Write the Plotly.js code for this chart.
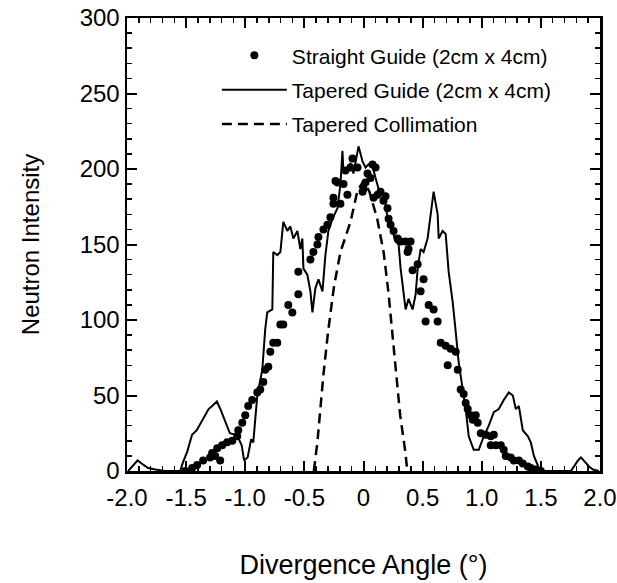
<!DOCTYPE html>
<html>
<head>
<meta charset="utf-8">
<script src="https://cdn.plot.ly/plotly-3.0.1.min.js"></script>
<style>html,body{margin:0;padding:0;background:#fff;}#chart{width:617px;height:583px;}</style>
</head>
<body>
<div id="chart"></div>
<script>
// Straight Guide (2cm x 4cm) - dots
const straightX = [-1.508,-1.449,-1.407,-1.356,-1.297,-1.280,-1.254,-1.237,-1.212,-1.195,-1.153,-1.110,-1.068,-1.059,-1.025,-1.000,-0.975,-0.941,-0.898,-0.873,-0.847,-0.831,-0.805,-0.788,-0.763,-0.729,-0.703,-0.678,-0.636,-0.602,-0.551,-0.551,-0.449,-0.424,-0.390,-0.381,-0.339,-0.305,-0.280,-0.254,-0.254,-0.237,-0.220,-0.195,-0.169,-0.153,-0.136,-0.110,-0.093,-0.051,-0.008,0.000,0.017,0.034,0.059,0.076,0.085,0.102,0.119,0.144,0.169,0.186,0.203,0.212,0.229,0.254,0.288,0.314,0.356,0.373,0.381,0.398,0.415,0.458,0.483,0.508,0.525,0.551,0.593,0.627,0.653,0.695,0.712,0.737,0.780,0.797,0.822,0.847,0.864,0.881,0.907,0.924,0.949,0.966,0.992,1.034,1.076,1.102,1.076,1.119,1.161,1.186,1.203,1.246,1.271,1.314,1.347,1.390,1.415,1.458,1.500];
const straightY = [0,2,4,7,9,12,10,15,7,17,19,20,23,27,32,37,43,47,52,54,59,67,69,79,85,85,97,97,110,105,117,132,140,145,150,155,160,163,168,177,181,192,191,177,190,199,183,201,207,201,185,187,191,197,194,203,181,201,183,185,179,182,174,167,163,159,154,152,152,145,147,152,133,137,119,127,99,110,107,99,85,83,70,81,79,67,54,51,45,41,37,34,37,32,25,24,23,24,17,17,17,14,10,9,7,7,5,3,2,1,0];

// Tapered Guide (2cm x 4cm) - solid line
const taperedX = [-1.99,-1.91,-1.86,-1.82,-1.76,-1.68,-1.55,-1.53,-1.49,-1.45,-1.41,-1.36,-1.31,-1.28,-1.24,-1.21,-1.19,-1.17,-1.13,-1.08,-1.06,-1.03,-1.01,-0.98,-0.95,-0.932,-0.898,-0.856,-0.831,-0.814,-0.771,-0.763,-0.729,-0.703,-0.678,-0.644,-0.619,-0.593,-0.559,-0.534,-0.517,-0.508,-0.475,-0.449,-0.432,-0.407,-0.381,-0.347,-0.322,-0.297,-0.263,-0.220,-0.195,-0.178,-0.169,-0.136,-0.110,-0.085,-0.042,-0.008,0.017,0.042,0.076,0.102,0.127,0.161,0.186,0.212,0.246,0.271,0.297,0.314,0.339,0.356,0.381,0.415,0.441,0.458,0.483,0.508,0.542,0.568,0.593,0.627,0.636,0.669,0.695,0.720,0.754,0.780,0.805,0.839,0.864,0.890,0.932,0.975,1.017,1.059,1.102,1.144,1.186,1.229,1.263,1.288,1.314,1.347,1.390,1.415,1.441,1.483,1.525,1.754,1.814,1.839,1.881,1.907,1.941,1.99];
const taperedY = [0,7,4,2,1,0,0,5,13,24,27,34,41,43,46,41,37,32,25,24,22,17,7,9,21,19,50,67,94,105,107,145,143,145,165,159,162,154,159,147,154,134,130,119,105,121,127,119,143,159,167,174,190,212,197,201,204,197,215,205,201,203,202,194,187,183,177,163,159,152,150,134,117,107,114,107,117,134,147,145,154,170,185,170,154,159,157,132,112,92,72,54,41,23,14,14,23,30,39,41,47,52,50,41,43,27,23,19,10,2,0,0,7,9,5,3,1,0];

// Tapered Collimation - dashed line
const collimX = [-0.42,-0.39,-0.34,-0.30,-0.25,-0.195,-0.11,-0.05,0.0,0.05,0.116,0.17,0.21,0.245,0.28,0.31,0.355,0.37];
const collimY = [0,19,63,92,122,145,165,186,192,185,167,145,119,90,59,37,12,0];

const xTickVals = [-2,-1.5,-1,-0.5,0,0.5,1,1.5,2];
const xTickText = ["-2.0","-1.5","-1.0","-0.5","0","0.5","1.0","1.5","2.0"];
const yTickVals = [0,50,100,150,200,250,300];

const FONT = "Liberation Sans, Arial, Helvetica, sans-serif";

// map Plotly's default formatted labels (unicode minus, one decimal) to the reference's labels
const xAlias = {};
xTickVals.forEach((v, i) => {
  const s = (v < 0 ? '\u2212' : '') + Math.abs(v).toFixed(1);
  xAlias[s] = xTickText[i];
});

const traces = [
  {x: straightX, y: straightY, type: 'scatter', mode: 'markers', name: 'Straight Guide (2cm x 4cm)',
   marker: {color: '#000', size: 8}, legendgroup: 'a'},
  {x: taperedX, y: taperedY, type: 'scatter', mode: 'lines', name: 'Tapered Guide (2cm x 4cm)',
   line: {color: '#000', width: 2}, legendgroup: 'b'},
  {x: collimX, y: collimY, type: 'scatter', mode: 'lines', name: 'Tapered Collimation',
   line: {color: '#000', width: 2.5, dash: '10px,6px'}, legendgroup: 'c'}
];

const layout = {
  width: 617, height: 583,
  margin: {l: 127, r: 17, t: 18, b: 112},
  paper_bgcolor: '#fff', plot_bgcolor: '#fff',
  font: {family: FONT, color: '#000'},
  showlegend: true,
  legend: {x: 0.19, y: 0.962, xanchor: 'left', yanchor: 'top', bgcolor: 'rgba(0,0,0,0)',
           font: {size: 21, family: FONT, color: '#000'}, traceorder: 'grouped', tracegroupgap: 4, itemwidth: 65},
  xaxis: {
    range: [-2, 2], tickmode: 'linear', tick0: -2, dtick: 0.5, tickformat: '.1f', labelalias: xAlias,
    ticks: 'inside', ticklen: 10, tickwidth: 2, tickcolor: '#000',
    minor: {dtick: 0.1, ticks: 'inside', ticklen: 5, tickwidth: 1.5, tickcolor: '#000'},
    showline: true, linewidth: 2.5, linecolor: '#000', mirror: 'ticks',
    showgrid: false, zeroline: false, ticklabelstandoff: 4,
    tickfont: {size: 24, family: FONT, color: '#000'},
    title: {text: 'Divergence Angle (°)', font: {size: 27, family: FONT, color: '#000'}, standoff: 45}
  },
  yaxis: {
    range: [0, 300], tickmode: 'linear', tick0: 0, dtick: 50,
    ticks: 'inside', ticklen: 10, tickwidth: 2, tickcolor: '#000',
    minor: {dtick: 10, ticks: 'inside', ticklen: 5, tickwidth: 1.5, tickcolor: '#000'},
    showline: true, linewidth: 2.5, linecolor: '#000', mirror: 'ticks',
    showgrid: false, zeroline: false,
    tickfont: {size: 24, family: FONT, color: '#000'},
    title: {text: 'Neutron Intensity', font: {size: 24, family: FONT, color: '#000'}, standoff: 34}
  }
};

Plotly.newPlot('chart', traces, layout, {displayModeBar: false, staticPlot: true});
</script>
</body>
</html>
